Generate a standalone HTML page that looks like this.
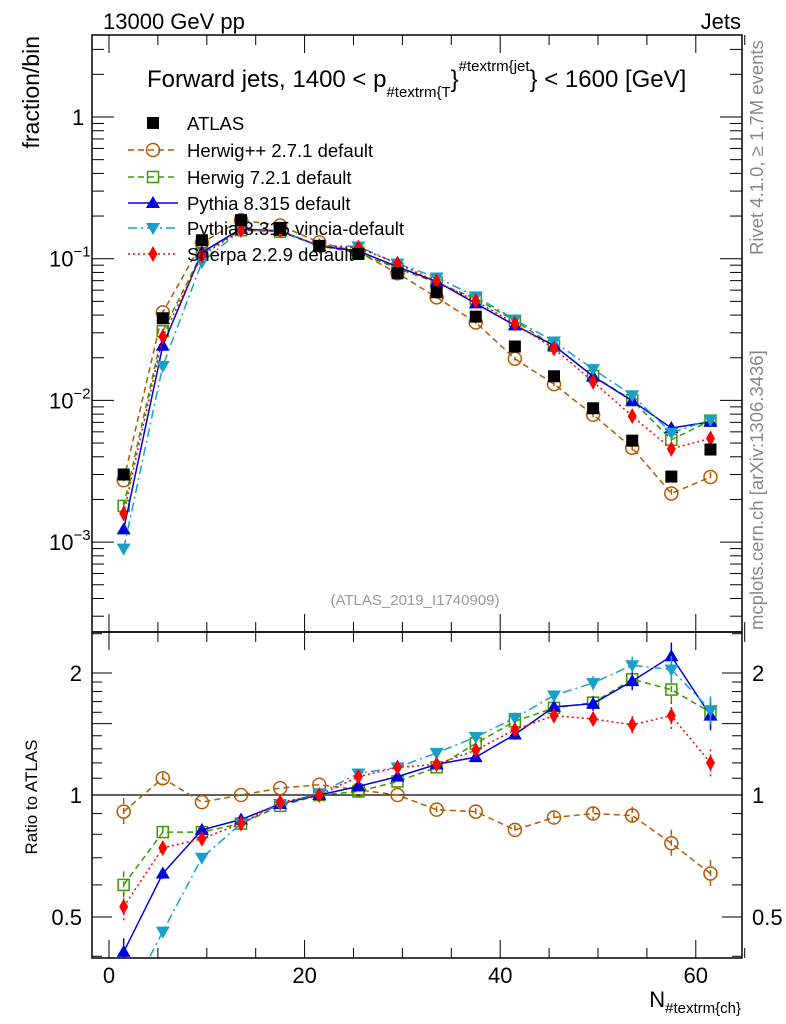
<!DOCTYPE html>
<html><head><meta charset="utf-8">
<style>
html,body{margin:0;padding:0;background:#fff;}
svg{display:block;font-family:"Liberation Sans",sans-serif;}
</style></head>
<body>
<svg id="c" width="786" height="1024" viewBox="0 0 786 1024" xmlns="http://www.w3.org/2000/svg">
<defs>
<clipPath id="cm"><rect x="92" y="35" width="650" height="597"/></clipPath>
<clipPath id="cr"><rect x="92" y="632" width="650" height="326"/></clipPath>
</defs>
<text x="103" y="29" font-size="22">13000 GeV pp</text>
<text x="741" y="29" font-size="22" text-anchor="end">Jets</text>
<text x="147" y="87" font-size="24">Forward jets, 1400 &lt; p<tspan font-size="15" dy="10">#textrm{T</tspan><tspan font-size="24" dy="-10">}</tspan><tspan font-size="15" dy="-16">#textrm{jet</tspan><tspan font-size="24" dy="16">} &lt; 1600 [GeV]</tspan></text>
<text transform="translate(39,36) rotate(-90)" font-size="23" text-anchor="end">fraction/bin</text>
<text transform="translate(37,797) rotate(-90)" font-size="17" text-anchor="middle">Ratio to ATLAS</text>
<text x="741" y="1007" font-size="22" text-anchor="end">N<tspan font-size="15" dy="6">#textrm{ch}</tspan></text>
<text transform="translate(763,255) rotate(-90)" font-size="18.5" fill="#888">Rivet 4.1.0, ≥ 1.7M events</text>
<text transform="translate(763,630) rotate(-90)" font-size="18.5" fill="#888">mcplots.cern.ch [arXiv:1306.3436]</text>
<text x="415" y="605" font-size="15" fill="#999" text-anchor="middle">(ATLAS_2019_I1740909)</text>
<g id="axes"></g>
<g id="main" clip-path="url(#cm)"></g>
<g id="ratio" clip-path="url(#cr)"></g>
<g id="legend"></g>
<rect x="92" y="35" width="650" height="597" fill="none" stroke="#000" stroke-width="1.5"/>
<rect x="92" y="632" width="650" height="326" fill="none" stroke="#000" stroke-width="1.5"/>
</svg>
<script>
const nch = [1.5,5.5,9.5,13.5,17.5,21.5,25.5,29.5,33.5,37.5,41.5,45.5,49.5,53.5,57.5,61.5];
const atlas = [0.0030,0.038,0.135,0.187,0.165,0.123,0.108,0.079,0.058,0.039,0.024,0.0148,0.0088,0.0052,0.0029,0.0045];
const rHerwigpp = [0.91,1.10,0.96,1.00,1.04,1.06,1.03,1.00,0.92,0.91,0.82,0.88,0.90,0.89,0.76,0.64];
const rHerwig7 = [0.60,0.81,0.81,0.85,0.94,1.00,1.02,1.08,1.17,1.34,1.52,1.64,1.69,1.93,1.82,1.60];
const rPythia = [0.41,0.64,0.82,0.87,0.95,1.00,1.05,1.11,1.19,1.24,1.41,1.65,1.68,1.91,2.20,1.57];
const rVincia = [0.30,0.46,0.70,0.85,0.95,1.01,1.13,1.17,1.27,1.39,1.55,1.76,1.89,2.09,2.04,1.62];
const rSherpa = [0.53,0.74,0.78,0.85,0.96,1.00,1.11,1.17,1.19,1.29,1.45,1.57,1.54,1.49,1.57,1.20];
const relErr = [0.08,0.03,0.01,0.01,0.01,0.01,0.01,0.01,0.02,0.02,0.03,0.03,0.04,0.05,0.08,0.08];
const xTicks = [0,20,40,60];
const ratioTicks = [0.5,1,2];

const NS="http://www.w3.org/2000/svg";
const X = v => 109 + 9.78*v;
const Y = v => 117 - 141.7*Math.log10(v);
const R = v => 795 - 122*Math.log2(v);
function mk(tag, attrs, parent){const e=document.createElementNS(NS,tag);for(const k in attrs)e.setAttribute(k,attrs[k]);parent.appendChild(e);return e;}
const axes=document.getElementById('axes'), main=document.getElementById('main'), ratio=document.getElementById('ratio'), legend=document.getElementById('legend');

for(let v=0; v<=65; v+=5){
  const major = v%20===0, L = major?18:10;
  for(const [y0,dir] of [[632,-1],[35,1],[958,-1],[632,1]]){
    const t=mk('line',{x1:X(v),x2:X(v),y1:y0,y2:y0+dir*L,stroke:'#000','stroke-width':1},axes);
    
    
  }
}
xTicks.forEach(v=>{
  const t=mk('text',{x:X(v),y:983,'font-size':22,'text-anchor':'middle'},axes);
  t.textContent=v;
  
  
});
for(let e=-4;e<=0;e++){
  for(let m=1;m<=9;m++){
    const v=m*Math.pow(10,e), y=Y(v);
    if(y<35||y>632) continue;
    const L=m===1?22:12;
    for(const [x0,dir] of [[92,1],[742,-1]]){
      const t=mk('line',{x1:x0,x2:x0+dir*L,y1:y,y2:y,stroke:'#000','stroke-width':1},axes);
      
      
    }
  }
}
[[0,'1'],[-1,'10'],[-2,'10'],[-3,'10']].forEach(([e,s])=>{
  const y=Y(Math.pow(10,e));
  const t=mk('text',{x:e===0?72:49,y:y+8,'font-size':22},axes);
  t.textContent=s;
  if(e!==0){const sp=mk('tspan',{dy:-10,'font-size':15},t);sp.textContent='−'+(-e);}
  
  
});
[0.4,0.5,0.6,0.7,0.8,0.9,1,1.1,1.2,1.3,1.4,1.5,1.6,1.7,1.8,1.9,2,2.5].forEach(v=>{
  const y=R(v); if(y<632||y>958) return;
  const major=ratioTicks.includes(v)||v===1.5, L=major?20:10;
  for(const [x0,dir] of [[92,1],[742,-1]]){
    const t=mk('line',{x1:x0,x2:x0+dir*L,y1:y,y2:y,stroke:'#000','stroke-width':1},axes);
    
    
  }
});
ratioTicks.forEach(v=>{
  for(const [x,a] of [[82,'end'],[752,'start']]){
    const t=mk('text',{x:x,y:R(v)+8,'font-size':22,'text-anchor':a},axes);
    t.textContent=v;
    
    
  }
});
const one=mk('line',{x1:92,x2:742,y1:R(1),y2:R(1),stroke:'#000','stroke-width':1.2},axes);



function marker(g,type,x,y,color){
  const s=6;
  if(type==='sq') return mk('rect',{x:x-s,y:y-s,width:2*s,height:2*s,fill:'#000'},g);
  if(type==='osq') return mk('rect',{x:x-s+0.5,y:y-s+0.5,width:2*s-1,height:2*s-1,fill:'none',stroke:color,'stroke-width':1.5},g);
  if(type==='oc') return mk('circle',{cx:x,cy:y,r:s+0.5,fill:'none',stroke:color,'stroke-width':1.5},g);
  if(type==='tu') return mk('polygon',{points:`${x},${y-s-1} ${x-s-1},${y+s-1} ${x+s+1},${y+s-1}`,fill:color},g);
  if(type==='td') return mk('polygon',{points:`${x},${y+s+1} ${x-s-1},${y-s+1} ${x+s+1},${y-s+1}`,fill:color},g);
  if(type==='dm') return mk('polygon',{points:`${x},${y-s-2} ${x-4.5},${y} ${x},${y+s+2} ${x+4.5},${y}`,fill:color},g);
}
const series=[
  {name:'herwigpp',label:'Herwig++ 2.7.1 default',r:rHerwigpp,color:'#b35a00',dash:'6,4',m:'oc'},
  {name:'herwig7',label:'Herwig 7.2.1 default',r:rHerwig7,color:'#3a9a00',dash:'6,4',m:'osq'},
  {name:'pythia',label:'Pythia 8.315 default',r:rPythia,color:'#0000e0',dash:'',m:'tu'},
  {name:'vincia',label:'Pythia 8.315 vincia-default',r:rVincia,color:'#1aa0c8',dash:'9,4,2,4',m:'td'},
  {name:'sherpa',label:'Sherpa 2.2.9 default',r:rSherpa,color:'#ff0000',dash:'2,3',m:'dm'}
];
series.forEach(s=>{
  const vals=nch.map((x,i)=>atlas[i]*s.r[i]);
  for(const [g,f,v] of [[main,Y,vals],[ratio,R,s.r]]){
    const grp=mk('g',{},g);
    
    
    const p=mk('polyline',{points:nch.map((x,i)=>X(x)+','+f(v[i])).join(' '),fill:'none',stroke:s.color,'stroke-width':1.5,'stroke-dasharray':s.dash},grp);
    
    
    nch.forEach((x,i)=>{
      const e=relErr[i];
      if(e>0.015){
        const eb=mk('line',{x1:X(x),x2:X(x),y1:f(v[i]*(1+e)),y2:f(v[i]*(1-e)),stroke:s.color,'stroke-width':1.5,'stroke-dasharray':s.dash},grp);
        
        
      }
      const m=marker(grp,s.m,X(x),f(v[i]),s.color);
      
      
    });
  }
});
nch.forEach((x,i)=>{
  const m=marker(main,'sq',X(x),Y(atlas[i]),'#000');
  
  
});
const ly=[123,150,177,203,228,254];
const lg0=mk('g',{},legend);


marker(lg0,'sq',153,ly[0],'#000');
const t0=mk('text',{x:187,y:ly[0]+7,'font-size':18.5},lg0); t0.textContent='ATLAS';
series.forEach((s,k)=>{
  const g=mk('g',{},legend);
  
  
  const y=ly[k+1];
  mk('line',{x1:128,x2:178,y1:y,y2:y,stroke:s.color,'stroke-width':1.5,'stroke-dasharray':s.dash},g);
  marker(g,s.m,153,y,s.color);
  const t=mk('text',{x:187,y:y+7,'font-size':18.5},g); t.textContent=s.label;
});
</script>
</body></html>
